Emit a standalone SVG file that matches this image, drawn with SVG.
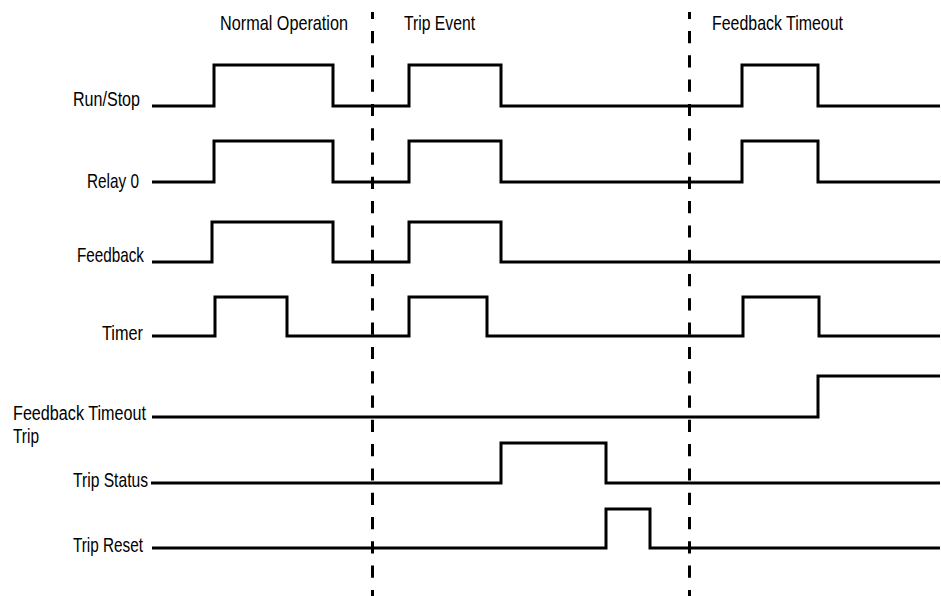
<svg xmlns="http://www.w3.org/2000/svg" width="941" height="596" viewBox="0 0 941 596">
  <style>
    text { font-family: "Liberation Sans Narrow", "Liberation Sans", Arial, sans-serif; font-size: 21px; fill: #000; }
    .small { font-size: 20px; }
    .wave { fill: none; stroke: #000; stroke-width: 3; stroke-linejoin: miter; stroke-linecap: butt; }
    .divider { fill: none; stroke: #000; stroke-width: 3; stroke-dasharray: 12.2 12.1; stroke-dashoffset: 5.3; }
  </style>
  <rect width="941" height="596" fill="#fff"/>

  <g id="phases">
    <text x="220" y="30" textLength="128" lengthAdjust="spacingAndGlyphs">Normal Operation</text>
    <text x="404" y="30" textLength="71" lengthAdjust="spacingAndGlyphs">Trip Event</text>
    <text x="712" y="30" textLength="131" lengthAdjust="spacingAndGlyphs">Feedback Timeout</text>
  </g>

  <g id="dividers">
    <line class="divider" x1="372.5" y1="12" x2="372.5" y2="596"/>
    <line class="divider" x1="689.5" y1="12" x2="689.5" y2="596"/>
  </g>

  <g id="run-stop">
    <text x="73" y="106" textLength="67" lengthAdjust="spacingAndGlyphs">Run/Stop</text>
    <path class="wave" d="M152,106 H214 V65 H333 V106 H409 V65 H501 V106 H742 V65 H818 V106 H940"/>
  </g>

  <g id="relay-0">
    <text x="87" y="188" textLength="52" lengthAdjust="spacingAndGlyphs">Relay 0</text>
    <path class="wave" d="M152,182 H214 V141 H333 V182 H409 V141 H501 V182 H742 V141 H818 V182 H940"/>
  </g>

  <g id="feedback">
    <text x="77" y="262" textLength="67" lengthAdjust="spacingAndGlyphs">Feedback</text>
    <path class="wave" d="M152,262 H212 V222 H333 V262 H409 V222 H501 V262 H940"/>
  </g>

  <g id="timer">
    <text x="102" y="340" textLength="41" lengthAdjust="spacingAndGlyphs">Timer</text>
    <path class="wave" d="M152,336 H215 V297 H287 V336 H409 V297 H487 V336 H743 V297 H819 V336 H940"/>
  </g>

  <g id="feedback-timeout-trip">
    <text class="small" x="13" y="420" textLength="133" lengthAdjust="spacingAndGlyphs">Feedback Timeout</text>
    <text class="small" x="13" y="443" textLength="26" lengthAdjust="spacingAndGlyphs">Trip</text>
    <path class="wave" d="M152,417 H818 V376 H940"/>
  </g>

  <g id="trip-status">
    <text x="73" y="487" textLength="75" lengthAdjust="spacingAndGlyphs">Trip Status</text>
    <path class="wave" d="M151,483 H501 V443 H606 V483 H940"/>
  </g>

  <g id="trip-reset">
    <text x="73" y="552" textLength="70" lengthAdjust="spacingAndGlyphs">Trip Reset</text>
    <path class="wave" d="M152,548 H606 V509 H650 V548 H940"/>
  </g>
</svg>
